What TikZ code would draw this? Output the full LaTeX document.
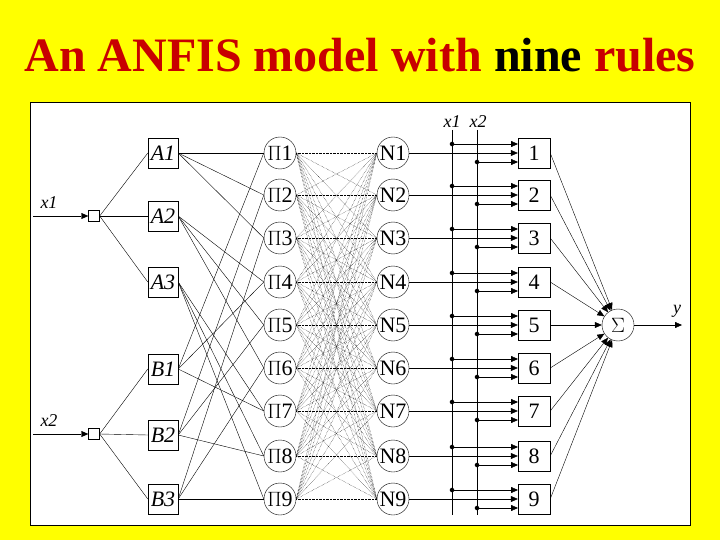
\documentclass[tikz,border=0pt]{standalone}
\usepackage{fontspec}
\setmainfont{Liberation Serif}
\usetikzlibrary{arrows.meta}
\definecolor{bgcolor}{RGB}{255,255,0}
\definecolor{titlecolor}{RGB}{200,0,0}
\begin{document}
\begin{tikzpicture}[x=1pt,y=-1pt,
    mf/.style={draw,minimum size=30pt,inner sep=0pt,font=\fontsize{22}{22}\selectfont\itshape},
    rule/.style={draw,circle,minimum size=32pt,inner sep=0pt,font=\fontsize{22}{22}\selectfont},
    outbox/.style={draw,minimum width=32pt,minimum height=30pt,inner sep=0pt,font=\fontsize{22}{22}\selectfont},
    inp/.style={draw,minimum size=11pt,inner sep=0pt},
    lbl/.style={font=\fontsize{18}{18}\selectfont\itshape},
    arr/.style={-{Triangle[length=7pt,width=6pt]}},
    dot/.style={circle,fill,inner sep=1.6pt}]
      % Background and panel
      \fill[bgcolor] (0,0) rectangle (720,540);
      \draw[fill=white,thick] (30,102) rectangle (690,525);
      \node[font=\fontsize{48}{48}\selectfont\bfseries,text=titlecolor] (title) at (360,55)
        {An ANFIS model with \textcolor{black}{nine} rules};

      % Inputs
      \node[inp] (in1) at (94,216) {};
      \node[inp] (in2) at (94,434) {};
      \coordinate (s1) at (33,216);
      \coordinate (s2) at (33,434);
      \draw[arr] (s1) -- (in1.west);
      \draw[arr] (s2) -- (in2.west);
      \node[lbl] at (49,203) {x1};
      \node[lbl] at (49,421) {x2};

      % Membership functions
      \foreach \i/\y in {1/153,2/216,3/282} {
        \node[mf] (A\i) at (163,\y) {A\i};
        \draw (in1.east) -- (A\i.west);
      }
      \foreach \i/\y in {1/369,2/435,3/499} {
        \node[mf] (B\i) at (163,\y) {B\i};
        \draw (in2.east) -- (B\i.west);
      }

      % Rule, normalisation and output layers
      \foreach \k/\y in {1/153,2/195,3/238,4/282,5/325,6/368,7/411,8/456,9/499} {
        \node[rule] (P\k) at (280,\y) {$\Pi$\k};
        \node[rule] (N\k) at (393,\y) {N\k};
        \node[outbox] (O\k) at (534,\y) {\k};
      }
      \node[rule] (S) at (618,325) {$\Sigma$};

      % A_i and B_j into rule k
      \foreach \i in {1,2,3} {
        \foreach \j in {1,2,3} {
          \pgfmathtruncatemacro{\k}{3*(\i-1)+\j}
          \draw (A\i.east) -- (P\k.west);
          \draw (B\j.east) -- (P\k.west);
        }
      }

      % Full dotted mesh between rules and normalisation
      \foreach \k in {1,...,9} {
        \foreach \m in {1,...,9} {
          \draw[densely dotted] (P\k.east) -- (N\m.west);
        }
      }

      % Input buses
      \coordinate (bus1t) at (452,130);
      \coordinate (bus1b) at (452,515);
      \coordinate (bus2t) at (477,130);
      \coordinate (bus2b) at (477,515);
      \draw (bus1t) -- (bus1b);
      \draw (bus2t) -- (bus2b);
      \node[lbl] at (452,122) {x1};
      \node[lbl] at (478,122) {x2};

      \foreach \k/\y in {1/153,2/195,3/238,4/282,5/325,6/368,7/411,8/456,9/499} {
        \pgfmathsetmacro{\ya}{\y-9}
        \pgfmathsetmacro{\yb}{\y+9}
        \node[dot] (e1\k) at (452,\ya) {};
        \node[dot] (e2\k) at (477,\yb) {};
        \coordinate (t1\k) at (518,\ya);
        \coordinate (t2\k) at (518,\yb);
        \draw[arr] (N\k.east) -- (O\k.west);
        \draw[arr] (e1\k) -- (t1\k);
        \draw[arr] (e2\k) -- (t2\k);
        \draw[arr] (O\k.east) -- (S);
      }

      % Output
      \coordinate (yend) at (682,325);
      \draw[arr] (S.east) -- (yend);
      \node[lbl] at (677,311) {y};
    \end{tikzpicture}
\end{document}
